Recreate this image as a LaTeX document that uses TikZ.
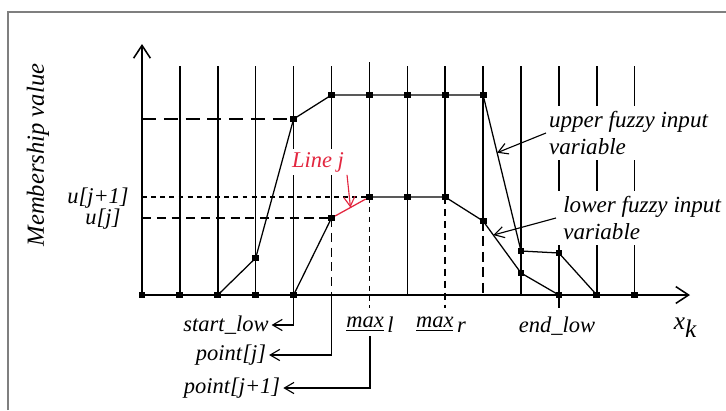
\documentclass[tikz,border=0pt]{standalone}
\usepackage{fontspec}
\setmainfont{Liberation Serif}
\usetikzlibrary{arrows.meta}
\definecolor{LineRed}{HTML}{E3263F}
\definecolor{FrameGray}{HTML}{7F7F7F}
\tikzset{
  sq/.style={fill, inner sep=0pt, minimum size=1.7mm},
  gline/.style={line width=1.1pt},
  curve/.style={line width=0.9pt},
  frame/.style={draw=FrameGray, line width=0.9pt},
  lbl/.style={font=\fontsize{16}{19}\selectfont\itshape, inner sep=2pt},
  big/.style={font=\fontsize{16.4}{19}\selectfont\itshape, fill=white, align=left, anchor=west},
  axarr/.style={-{Straight Barb[length=3.2mm, width=4.2mm]}, line width=1.1pt},
  ptr/.style={-{Straight Barb[length=2.4mm, width=2.8mm]}, line width=0.8pt}
}

\begin{document}
\begin{tikzpicture}[x=0.025cm, y=-0.025cm]
  \useasboundingbox (0,0) rectangle (726,410);
  \draw[frame] (8,410) |- (726,12);

  % points on the x axis
  \node[sq] (a0) at (142,295) {};
  \node[sq] (a1) at (179.9,295) {};
  \node[sq] (a2) at (217.8,295) {};
  \node[sq] (a3) at (255.7,295) {};
  \node[sq] (a4) at (293.6,295) {};
  \node[sq] (a11) at (558.9,295) {};
  \node[sq] (a12) at (596.8,295) {};
  \node[sq] (a13) at (634.7,295) {};
  % upper function
  \node[sq] (u3) at (255.7,258) {};
  \node[sq] (u4) at (293.6,119) {};
  \node[sq] (u5) at (331.5,95) {};
  \node[sq] (u6) at (369.4,95) {};
  \node[sq] (u7) at (407.3,95) {};
  \node[sq] (u8) at (445.2,95) {};
  \node[sq] (u9) at (483.1,95) {};
  \node[sq] (u10) at (521,251) {};
  \node[sq] (u11) at (558.9,253) {};
  % lower function
  \node[sq] (l5) at (331.5,218) {};
  \node[sq] (l6) at (369.4,197) {};
  \node[sq] (l7) at (407.3,197) {};
  \node[sq] (l8) at (445.2,197) {};
  \node[sq] (l9) at (483.1,221) {};
  \node[sq] (l10) at (521,273) {};

  \coordinate (xend) at (690,295);
  \coordinate (yend) at (142,44);
  \coordinate (b5) at (331.5,295);

  % axes and grid
  \draw[axarr] (a0.center) -- (xend);
  \draw[axarr] (a0.center) -- (yend);
  \foreach \x in {179.9,217.8,255.7,293.6,407.3,521,596.8,634.7}
    \draw[gline] (\x,66) -- (\x,295);
  \draw[gline] (558.9,66) -- (558.9,308);
  \draw[gline] (331.5,66) -- (l5.center);
  \draw[gline, dash pattern=on 6.5pt off 4pt] (l5.center) -- (b5);
  \draw[gline] (369.4,62) -- (l6.center);
  \draw[gline, dash pattern=on 4pt off 3pt] (l6.center) -- (369.4,308);
  \draw[gline] (445.2,66) -- (l8.center);
  \draw[gline, dash pattern=on 5pt off 3.5pt] (l8.center) -- (445.2,308);
  \draw[gline] (483.1,66) -- (l9.center);
  \draw[gline, dash pattern=on 7pt off 4pt] (l9.center) -- (483.1,295);

  % levels
  \draw[gline, dash pattern=on 10pt off 5.5pt] (142,119) -- (u4.center);
  \draw[gline, dash pattern=on 3.5pt off 3pt] (142,197) -- (l6.center);
  \draw[gline, dash pattern=on 6.5pt off 4pt] (142,218) -- (l5.center);

  % membership functions
  \draw[curve] (a2.center) -- (u3.center) -- (u4.center) -- (u5.center) -- (u9.center)
    -- (u10.center) -- (u11.center) -- (a12.center);
  \draw[curve] (a4.center) -- (l5.center);
  \draw[curve] (l6.center) -- (l8.center) -- (l9.center) -- (l10.center) -- (a11.center);
  \draw[curve, LineRed] (l5) -- (l6);

  \path (u9.center) -- (u10.center) coordinate[pos=0.37] (uptip);
  \path (l9.center) -- (l10.center) coordinate[pos=0.27] (lowtip);
  \path (l5.center) -- (l6.center) coordinate[pos=0.5] (redtip);

  % labels
  \node[lbl, rotate=90, font=\fontsize{17.5}{20}\selectfont\itshape] (mv) at (38,155) {Membership value};
  \node[lbl] (uj1) at (98,198) {u[j+1]};
  \node[lbl] (uj) at (103,219) {u[j]};
  \node[lbl, fill=white, text=LineRed] (linej) at (318,162) {Line j};
  \node[big, inner xsep=2pt, inner ysep=4pt] (upvar) at (546,133) {upper fuzzy input\\variable};
  \node[big, inner xsep=5pt, inner ysep=4pt] (lowvar) at (556,218) {lower fuzzy input\\variable};
  \node[lbl] (startlow) at (226,325) {start\_low};
  \node[lbl] (pointj) at (231,355) {point[j]};
  \node[lbl] (pointjj) at (232,388) {point[j+1]};
  \node[lbl] (maxl) at (370,325) {\underline{max}\,\raisebox{-0.5ex}{l}};
  \node[lbl] (maxr) at (441,325) {\underline{max}\,\raisebox{-0.5ex}{r}};
  \node[lbl] (endlow) at (557,326) {end\_low};
  \node[lbl, font=\fontsize{18}{20}\selectfont\itshape] (xk) at (685,328) {x\raisebox{-0.7ex}{k}};

  % pointers
  \draw[ptr] (a4.center) |- (startlow.east);
  \draw[ptr] (b5) |- (pointj.east);
  \draw[ptr] (maxl.south) |- (pointjj.east);
  \draw[ptr] (upvar.west) -- (uptip);
  \draw[ptr] (lowvar.west) -- (lowtip);
  \draw[ptr, LineRed] (linej.south east) -- (redtip);
\end{tikzpicture}
\end{document}
